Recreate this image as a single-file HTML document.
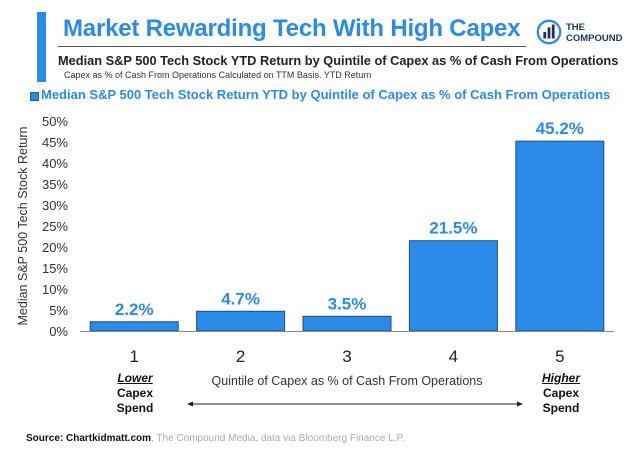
<!DOCTYPE html>
<html><head><meta charset="utf-8"><style>
body{margin:0;width:642px;height:460px;background:#fff;overflow:hidden;font-family:"Liberation Sans",sans-serif;position:relative}
.a{position:absolute}
</style></head><body>
<div class="a" style="left:37px;top:12px;width:9px;height:70px;background:#2a8be8"></div>
<div class="a" style="left:63px;top:15px;font-size:24px;font-weight:bold;color:#2a8be8;white-space:nowrap;letter-spacing:-0.2px">Market Rewarding Tech With High Capex</div>
<div class="a" style="left:58px;top:46px;width:468px;height:1px;background:#555"></div>
<svg class="a" style="left:535px;top:18px" width="28" height="28" viewBox="0 0 30 30"><circle cx="15" cy="15" r="12" fill="none" stroke="#2a8be8" stroke-width="2.5"/><rect x="9" y="15" width="3" height="7" fill="#1d3557"/><rect x="13.5" y="10" width="3" height="12" fill="#1d3557"/><rect x="18" y="7" width="3" height="15" fill="#1d3557"/></svg>
<div class="a" style="left:566px;top:22px;font-size:9.5px;font-weight:bold;color:#1d3557;line-height:11px">THE<br>COMPOUND</div>
<div class="a" style="left:58px;top:53px;font-size:12.8px;font-weight:bold;color:#222;white-space:nowrap">Median S&amp;P 500 Tech Stock YTD Return by Quintile of Capex as % of Cash From Operations</div>
<div class="a" style="left:64px;top:70px;font-size:9px;color:#333;white-space:nowrap">Capex as % of Cash From Operations Calculated on TTM Basis. YTD Return</div>
<div class="a" style="left:30px;top:92px;width:7px;height:7px;background:#2a8be8;border:1px solid #1d5fa0"></div>
<div class="a" style="left:41px;top:87px;font-size:13px;font-weight:bold;color:#2a8be8;white-space:nowrap">Median S&amp;P 500 Tech Stock Return YTD by Quintile of Capex as % of Cash From Operations</div>
<svg class="a" id="chart" style="left:0;top:0" width="642" height="460"></svg>
<div class="a" style="left:100px;top:371px;width:70px;text-align:center;font-size:12px;font-weight:bold;color:#111;line-height:15px"><i><u>Lower</u></i><br>Capex<br>Spend</div>
<div class="a" style="left:522px;top:371px;width:78px;text-align:center;font-size:12px;font-weight:bold;color:#111;line-height:15px"><i><u>Higher</u></i><br>Capex<br>Spend</div>
<div class="a" style="left:177px;top:374px;width:340px;text-align:center;font-size:12.5px;color:#333">Quintile of Capex as % of Cash From Operations</div>
<div class="a" style="left:26px;top:433px;font-size:10px;color:#aaa;white-space:nowrap"><b style="color:#111">Source: Chartkidmatt.com</b>, The Compound Media, data via Bloomberg Finance L.P.</div>
<script>
const categories=["1","2","3","4","5"];
const values=[2.2,4.7,3.5,21.5,45.2];
const valueLabels=["2.2%","4.7%","3.5%","21.5%","45.2%"];
const yTicks=[0,5,10,15,20,25,30,35,40,45,50];
const svg=document.getElementById('chart');
const NS='http://www.w3.org/2000/svg';
const x0=81,band=106.4,bw=88,yBase=331,yTop=121;
const y=v=>yBase-(v/50)*(yBase-yTop);
const xc=i=>x0+band*i+band/2;
function mk(t,a){const e=document.createElementNS(NS,t);for(const k in a)e.setAttribute(k,a[k]);svg.appendChild(e);return e;}
yTicks.forEach(t=>{const e=mk('text',{x:68,y:y(t)+5,'text-anchor':'end','font-size':13,fill:'#333','font-family':'Liberation Sans'});e.textContent=t+'%';

});
const yt=mk('text',{x:0,y:0,transform:'translate(27,226) rotate(-90)','text-anchor':'middle','font-size':12.5,fill:'#333','font-family':'Liberation Sans'});yt.textContent='Median S&P 500 Tech Stock Return';


values.forEach((v,i)=>{
const r=mk('rect',{x:xc(i)-bw/2,y:y(v),width:bw,height:yBase-y(v),fill:'#2a8be8',stroke:'#1d4f80','stroke-width':1});


const l=mk('text',{x:xc(i),y:y(v)-7,'text-anchor':'middle','font-size':17,'font-weight':'bold',fill:'#2a8be8','font-family':'Liberation Sans'});l.textContent=valueLabels[i];


const c=mk('text',{x:xc(i),y:362,'text-anchor':'middle','font-size':17,fill:'#222','font-family':'Liberation Sans'});c.textContent=categories[i];


});
const ax=mk('line',{x1:80,x2:614,y1:yBase+0.5,y2:yBase+0.5,stroke:'#888','stroke-width':1});


const ar=mk('g',{});


ar.innerHTML='<line x1="190" y1="404" x2="520" y2="404" stroke="#222" stroke-width="1"/><polygon points="187,404 193,401.5 193,406.5" fill="#222"/><polygon points="523,404 517,401.5 517,406.5" fill="#222"/>';
</script>
</body></html>
